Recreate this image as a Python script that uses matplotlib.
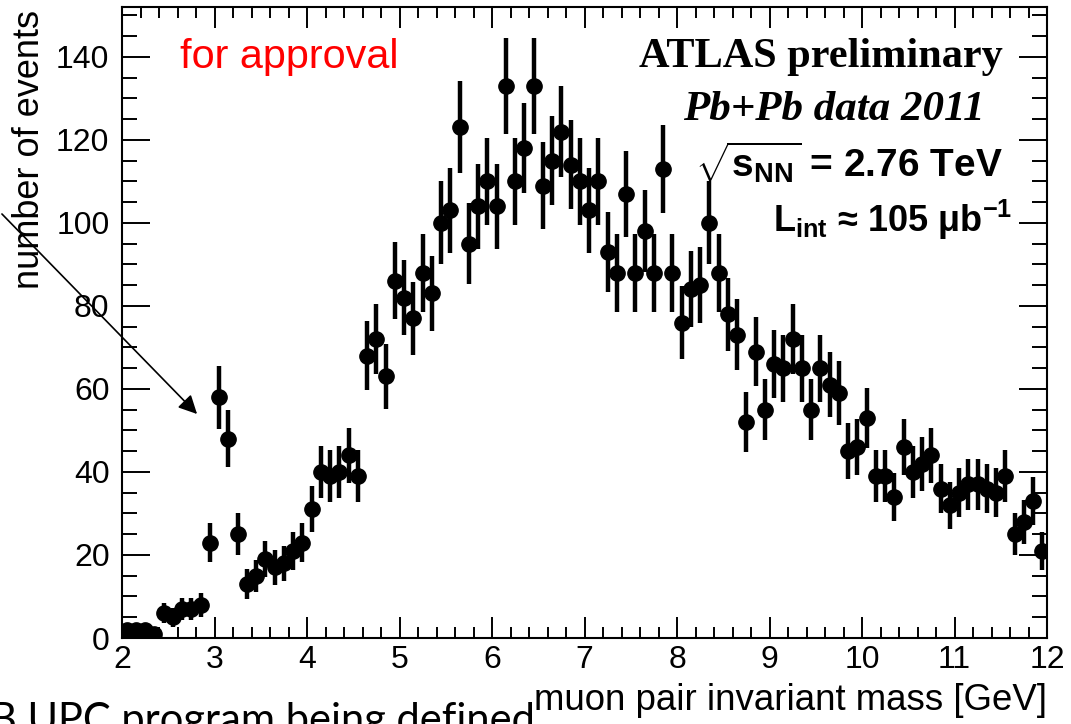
import numpy as np
import matplotlib
matplotlib.use('Agg')
import matplotlib.pyplot as plt
from matplotlib.ticker import MultipleLocator

# bin centres (0.1 GeV bins) and counts
mass = [2.05, 2.15, 2.25, 2.35, 2.45, 2.55, 2.65, 2.75, 2.85, 2.95,
        3.05, 3.15, 3.25, 3.35, 3.45, 3.55, 3.65, 3.75, 3.85, 3.95,
        4.05, 4.15, 4.25, 4.35, 4.45, 4.55, 4.65, 4.75, 4.85, 4.95,
        5.05, 5.15, 5.25, 5.35, 5.45, 5.55, 5.65, 5.75, 5.85, 5.95,
        6.05, 6.15, 6.25, 6.35, 6.45, 6.55, 6.65, 6.75, 6.85, 6.95,
        7.05, 7.15, 7.25, 7.35, 7.45, 7.55, 7.65, 7.75, 7.85, 7.95,
        8.05, 8.15, 8.25, 8.35, 8.45, 8.55, 8.65, 8.75, 8.85, 8.95,
        9.05, 9.15, 9.25, 9.35, 9.45, 9.55, 9.65, 9.75, 9.85, 9.95,
        10.05, 10.15, 10.25, 10.35, 10.45, 10.55, 10.65, 10.75, 10.85, 10.95,
        11.05, 11.15, 11.25, 11.35, 11.45, 11.55, 11.65, 11.75, 11.85, 11.95]
counts = [2, 2, 2, 1, 6, 5, 7, 7, 8, 23,
          58, 48, 25, 13, 15, 19, 17, 18, 21, 23,
          31, 40, 39, 40, 44, 39, 68, 72, 63, 86,
          82, 77, 88, 83, 100, 103, 123, 95, 104, 110,
          104, 133, 110, 118, 133, 109, 115, 122, 114, 110,
          103, 110, 93, 88, 107, 88, 98, 88, 113, 88,
          76, 84, 85, 100, 88, 78, 73, 52, 69, 55,
          66, 65, 72, 65, 55, 65, 61, 59, 45, 46,
          53, 39, 39, 34, 46, 40, 42, 44, 36, 32,
          35, 37, 37, 36, 35, 39, 25, 28, 33, 21]

mass = np.array(mass)
counts = np.array(counts)
errs = np.sqrt(counts)

plt.rcParams['font.family'] = ['Liberation Sans', 'DejaVu Sans']
plt.rcParams['mathtext.fontset'] = 'custom'
plt.rcParams['mathtext.rm'] = 'Liberation Sans'
plt.rcParams['mathtext.bf'] = 'Liberation Sans:bold'

W, H = 1071, 724
fig = plt.figure(figsize=(W / 100, H / 100), dpi=100)
ax = fig.add_axes([122 / W, 1 - 638 / H, (1047 - 122) / W, (638 - 7) / H])

def fx(px):
    return px / W

def fy(py):
    return 1 - py / H

ax.errorbar(mass, counts, yerr=errs, fmt='o', color='black', ms=11,
            elinewidth=3.2, capsize=0)

ax.set_xlim(2, 12)
ax.set_ylim(0, 152)
ax.xaxis.set_major_locator(MultipleLocator(1))
ax.xaxis.set_minor_locator(MultipleLocator(0.2))
ax.yaxis.set_major_locator(MultipleLocator(20))
ax.yaxis.set_minor_locator(MultipleLocator(5))
ax.tick_params(which='both', direction='in', top=True, right=True,
               width=1.4, labelsize=23)
ax.tick_params(axis='x', which='major', length=15, pad=5)
ax.tick_params(axis='x', which='minor', length=8)
ax.tick_params(axis='y', which='major', length=20, pad=9)
ax.tick_params(axis='y', which='minor', length=11)
for s in ax.spines.values():
    s.set_linewidth(1.5)

# axis titles, placed like the ROOT style
fig.text(fx(1047), fy(710), 'muon pair invariant mass [GeV]', fontsize=26.4,
         ha='right', va='baseline')
fig.text(fx(30), fy(10), 'number of events', fontsize=26, rotation=90,
         ha='center', va='top')

fig.text(fx(180), fy(68), 'for approval', color='red', fontsize=29.8,
         va='baseline')
fig.text(fx(1003), fy(67), 'ATLAS preliminary', family='Liberation Serif',
         fontweight='bold', fontsize=30.4, ha='right', va='baseline')
fig.text(fx(985), fy(120), 'Pb+Pb data 2011', family='Liberation Serif',
         fontweight='bold', style='italic', fontsize=31, ha='right',
         va='baseline')
fig.text(fx(1003), fy(177), r'$\sqrt{\mathbf{s}_{\mathbf{NN}}}$ = 2.76 TeV',
         fontweight='bold', fontsize=28, ha='right', va='baseline')
fig.text(fx(1012), fy(232), 'L$_{\\mathbf{int}}$ \u2248 105 \u03bcb$^{\\mathbf{-1}}$',
         fontweight='bold', fontsize=26, ha='right', va='baseline')

# arrow pointing at the J/psi peak
ax.annotate('', xy=(199, H - 416), xycoords='figure pixels',
            xytext=(0, H - 212), textcoords='figure pixels',
            arrowprops=dict(arrowstyle='-|>', color='black', lw=1.2,
                            mutation_scale=28),
            annotation_clip=False)

# slide text cut at the bottom edge
fig.text(fx(-10), fy(733), 'B UPC program being defined', family='Lato',
         fontsize=30, va='baseline')

fig.savefig('out.png', dpi=100)
